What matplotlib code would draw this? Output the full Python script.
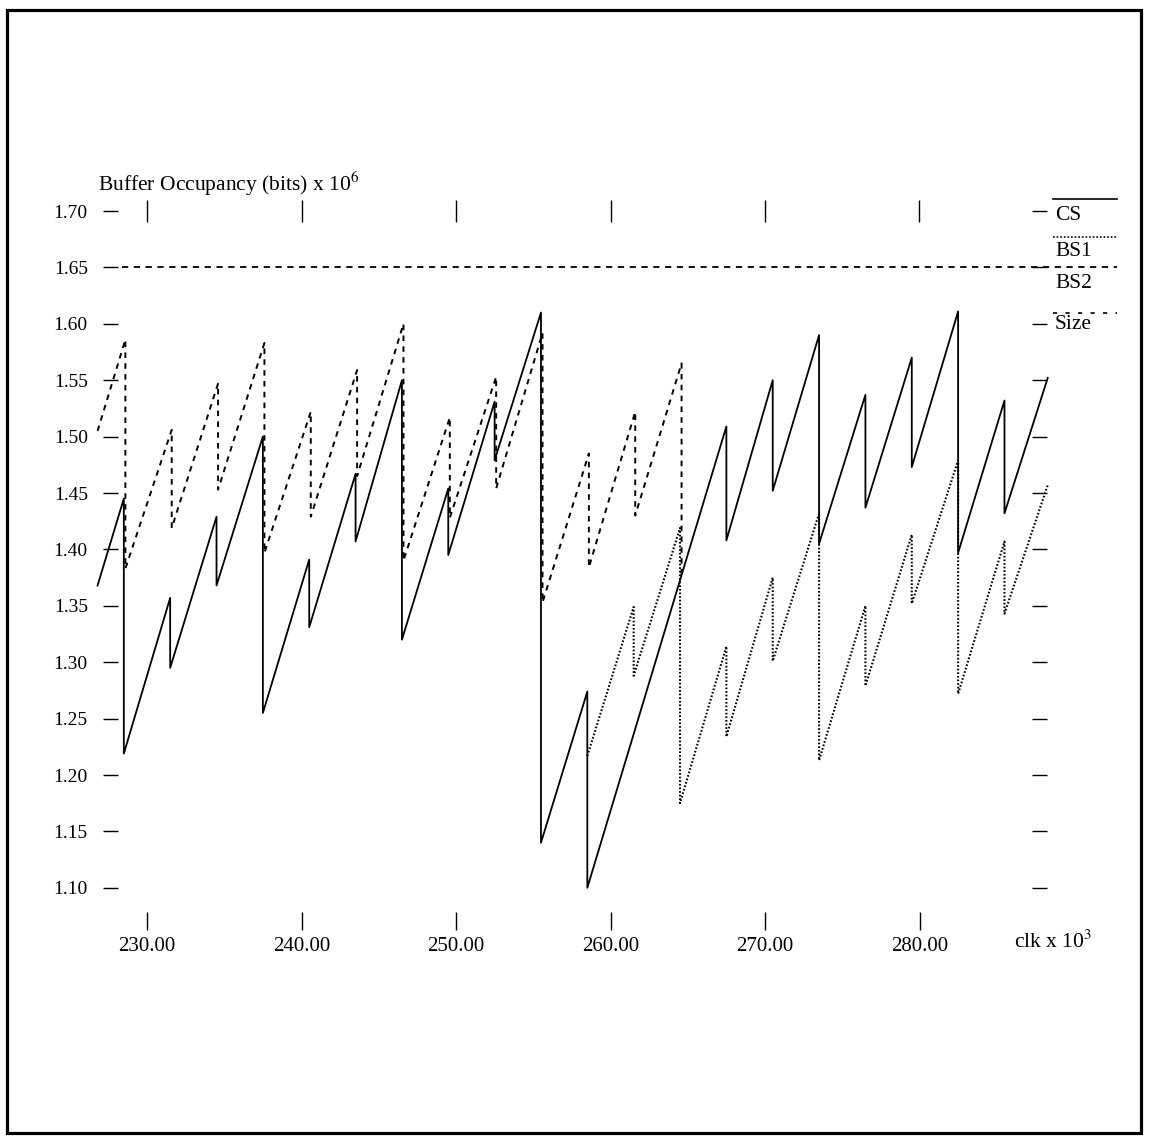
import matplotlib
matplotlib.use('Agg')
import matplotlib.pyplot as plt
from matplotlib.lines import Line2D
from matplotlib.patches import Rectangle

plt.rcParams['font.family'] = ['Liberation Serif', 'DejaVu Serif']
plt.rcParams['mathtext.fontset'] = 'stix'
plt.rcParams['lines.scale_dashes'] = False

# ---------------- data (clk x 10^3, bits x 10^6) ----------------
# CS (solid)
cs_start = (226.8, 1.368)
cs_drop_t = [228.5, 231.5, 234.5, 237.5, 240.5, 243.5, 246.5, 249.5, 252.5,
             255.5, 258.5, 267.5, 270.5, 273.5, 276.5, 279.5, 282.5, 285.5]
cs_peak = [1.445, 1.357, 1.429, 1.500, 1.391, 1.467, 1.550, 1.454, 1.531,
           1.610, 1.274, 1.509, 1.550, 1.590, 1.537, 1.570, 1.611, 1.532]
cs_trough = [1.219, 1.295, 1.368, 1.255, 1.331, 1.407, 1.320, 1.395, 1.479,
             1.140, 1.100, 1.408, 1.452, 1.405, 1.437, 1.473, 1.397, 1.432]
cs_end = (288.3, 1.552)

# BS2 (dashed)
bs2_start = (226.8, 1.505)
bs2_drop_t = [228.6, 231.6, 234.6, 237.6, 240.6, 243.6, 246.6, 249.6, 252.6,
              255.6, 258.6, 261.6, 264.6]
bs2_peak = [1.586, 1.506, 1.547, 1.583, 1.522, 1.559, 1.600, 1.517, 1.553,
            1.592, 1.485, 1.522, 1.565]
bs2_trough = [1.383, 1.419, 1.453, 1.397, 1.429, 1.465, 1.390, 1.428, 1.454,
              1.353, 1.384, 1.430, 1.376]

# BS1 (dotted)
bs1_start = (258.5, 1.217)
bs1_drop_t = [261.5, 264.5, 267.5, 270.5, 273.5, 276.5, 279.5, 282.5, 285.5]
bs1_peak = [1.349, 1.419, 1.314, 1.375, 1.432, 1.350, 1.413, 1.479, 1.407]
bs1_trough = [1.288, 1.175, 1.234, 1.301, 1.213, 1.279, 1.352, 1.272, 1.343]
bs1_end = (288.3, 1.457)

# buffer size level
size_level = 1.65

# ticks
y_ticks = [1.10, 1.15, 1.20, 1.25, 1.30, 1.35, 1.40, 1.45, 1.50, 1.55, 1.60, 1.65, 1.70]
y_tick_labels = ['1.10', '1.15', '1.20', '1.25', '1.30', '1.35', '1.40', '1.45',
                 '1.50', '1.55', '1.60', '1.65', '1.70']
x_ticks = [230, 240, 250, 260, 270, 280]
x_tick_labels = ['230.00', '240.00', '250.00', '260.00', '270.00', '280.00']
legend_labels = ['CS', 'BS1', 'BS2', 'Size']


def sawtooth(start, drops, peaks, troughs, end=None):
    xs, ys = [start[0]], [start[1]]
    for t, p, q in zip(drops, peaks, troughs):
        xs += [t, t]
        ys += [p, q]
    if end is not None:
        xs.append(end[0])
        ys.append(end[1])
    return xs, ys


W, H = 1149, 1137
fig = plt.figure(figsize=(W / 100, H / 100), dpi=100)


def fx(px):
    return px / W


def fy(py):
    return 1 - py / H


ax_l, ax_r, ax_t, ax_b = 103, 1047, 211, 930
ax = fig.add_axes([fx(ax_l), fy(ax_b), fx(ax_r) - fx(ax_l), fy(ax_t) - fy(ax_b)])
ax.set_facecolor('none')


def px2t(px):
    return 230 + (px - 147) / 15.45


ax.set_xlim(px2t(ax_l), px2t(ax_r))
ax.set_ylim(1.70 - (ax_b - 211) / 1128, 1.70)
for s in ax.spines.values():
    s.set_visible(False)

xs, ys = sawtooth(cs_start, cs_drop_t, cs_peak, cs_trough, cs_end)
ax.plot(xs, ys, color='black', lw=1.3, clip_on=False)

xs, ys = sawtooth(bs2_start, bs2_drop_t, bs2_peak, bs2_trough)
ax.plot(xs, ys, color='black', lw=1.4, dashes=(4.0, 3.8), clip_on=False)

xs, ys = sawtooth(bs1_start, bs1_drop_t, bs1_peak, bs1_trough, bs1_end)
ax.plot(xs, ys, color='black', lw=1.5, dashes=(1.2, 1.4), clip_on=False)

ax.axhline(size_level, xmin=(122 - ax_l) / (ax_r - ax_l), xmax=(1117 - ax_l) / (ax_r - ax_l),
           color='black', lw=1.3, dashes=(4.5, 4.0), clip_on=False)

# ticks
ax.set_yticks(y_ticks)
ax.set_yticklabels(y_tick_labels)
ax.set_xticks(x_ticks)
ax.set_xticklabels(x_tick_labels)
ax.tick_params(axis='y', which='both', direction='in', length=11, width=1.0,
               left=True, right=True, labelleft=True, labelright=False,
               pad=11, labelsize=14)
ax.tick_params(axis='x', which='both', direction='in', length=13, width=1.0,
               bottom=True, top=False, labelbottom=True, labeltop=False,
               pad=5, labelsize=15)

# top ticks straddling the 1.70 level
secx = ax.secondary_xaxis('top')
secx.set_xticks(x_ticks)
secx.set_xticklabels([])
secx.tick_params(direction='inout', length=16, width=1.0)
secx.spines['top'].set_visible(False)

# labels
fig.text(fx(98), fy(184), r'Buffer Occupancy (bits) x 10$^{6}$', fontsize=15.5,
         ha='left', va='center')
fig.text(fx(1014), fy(942), r'clk x 10$^{3}$', fontsize=15.5, ha='left', va='center')

# legend at right
leg_y = [215, 251, 283, 325]
over_y = [199, 237, None, 313]
over_style = [dict(ls='-'), dict(dashes=(1.2, 1.4)), None, dict(dashes=(3.0, 6.0))]
for lab, ty, oy, st in zip(legend_labels, leg_y, over_y, over_style):
    fig.text(fx(1055), fy(ty), lab, fontsize=15.5, ha='left', va='center')
    if oy is not None:
        fig.add_artist(Line2D([fx(1053), fx(1117)], [fy(oy), fy(oy)], color='black',
                              lw=1.2, **st))

# page border
fig.add_artist(Rectangle((fx(7), fy(1133)), fx(1141) - fx(7), fy(10) - fy(1133),
                         fill=False, lw=2.3, edgecolor='black'))

fig.savefig('out.png', dpi=100)
